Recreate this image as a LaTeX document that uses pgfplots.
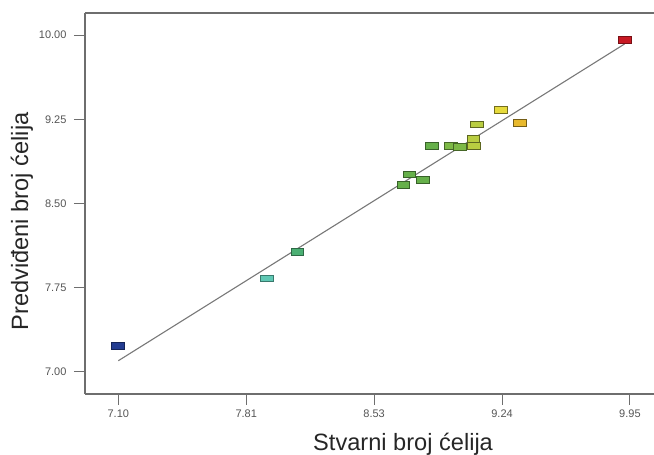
\documentclass[border=0pt]{standalone}
\usepackage{pgfplots}
\pgfplotsset{compat=1.18}
\usepackage{pgfplotstable}
\usepackage{fontspec}
\setmainfont{Liberation Sans}

\definecolor{frameGray}{RGB}{110,110,110}
\definecolor{tickText}{RGB}{85,85,85}
\definecolor{fitLine}{RGB}{120,120,120}
\definecolor{cBlue}{RGB}{35,60,145}
\definecolor{cTeal}{RGB}{95,200,180}
\definecolor{cTealGreen}{RGB}{75,175,115}
\definecolor{cGreenA}{RGB}{102,176,74}
\definecolor{cGreenB}{RGB}{125,185,70}
\definecolor{cYellowGreen}{RGB}{185,205,65}
\definecolor{cYellow}{RGB}{230,218,60}
\definecolor{cOrange}{RGB}{232,185,45}
\definecolor{cRed}{RGB}{200,25,35}

% flat rectangular marker, wider than tall
\pgfdeclareplotmark{flatrect}{%
  \pgfpathrectangle{\pgfpoint{-1.85\pgfplotmarksize}{-\pgfplotmarksize}}%
                   {\pgfpoint{3.7\pgfplotmarksize}{2\pgfplotmarksize}}%
  \pgfusepathqfillstroke}

% actual vs. predicted cell counts, with a colour class for each run
\pgfplotstableread{
x      y      c
7.097  7.231  bl
7.927  7.834  tl
8.097  8.066  tg
8.688  8.665  ga
8.721  8.760  ga
8.796  8.709  ga
8.846  9.012  ga
8.952  9.012  gb
9.004  9.006  gb
9.078  9.077  yg
9.082  9.012  yg
9.097  9.205  yg
9.230  9.332  yl
9.338  9.219  or
9.923  9.955  rd
}\runs

\begin{document}
\begin{tikzpicture}
\begin{axis}[
  scale only axis,
  width=569pt, height=381pt,
  xmin=6.9145, xmax=10.084,
  ymin=6.804, ymax=10.196,
  axis x line*=bottom,
  axis y line*=left,
  axis line style={draw=frameGray, line width=1.3pt},
  tick align=outside,
  major tick length=11pt,
  tick style={draw=frameGray, line width=1pt},
  xtick={7.1,7.8125,8.525,9.2375,9.95},
  xticklabels={7.10,7.81,8.53,9.24,9.95},
  ytick={7,7.75,8.5,9.25,10},
  yticklabels={7.00,7.75,8.50,9.25,10.00},
  ticklabel style={font=\fontsize{11}{12}\selectfont, text=tickText},
  /pgf/number format/assume math mode=true,
  xticklabel style={yshift=-1pt},
  yticklabel style={xshift=-4pt},
  xlabel={Stvarni broj ćelija},
  ylabel={Predviđeni broj ćelija},
  label style={font=\fontsize{23.6}{26}\selectfont, text=black!85},
  xlabel style={at={(axis description cs:0.559,-0.147)}, anchor=base},
  ylabel style={at={(axis description cs:-0.1107,0.453)}, anchor=center},
]
\coordinate (bl) at (rel axis cs:0,0);
\coordinate (tr) at (rel axis cs:1,1);
\draw[frameGray, line width=1.3pt] (rel axis cs:0,1) -- (rel axis cs:1,1);

\addplot[
  scatter, only marks, mark=flatrect, mark size=3.4pt,
  point meta=explicit symbolic,
  scatter/classes={
    bl={fill=cBlue, draw=cBlue!60!black, line width=0.7pt},
    tl={fill=cTeal, draw=cTeal!60!black, line width=0.7pt},
    tg={fill=cTealGreen, draw=cTealGreen!60!black, line width=0.7pt},
    ga={fill=cGreenA, draw=cGreenA!55!black, line width=0.7pt},
    gb={fill=cGreenB, draw=cGreenB!55!black, line width=0.7pt},
    yg={fill=cYellowGreen, draw=cYellowGreen!50!black, line width=0.7pt},
    yl={fill=cYellow, draw=cYellow!50!black, line width=0.7pt},
    or={fill=cOrange, draw=cOrange!50!black, line width=0.7pt},
    rd={fill=cRed, draw=cRed!60!black, line width=0.7pt}
  },
] table[x=x, y=y, meta=c] {\runs};

% 1:1 reference line
\addplot[fitLine, line width=1.1pt, no marks] coordinates {(7.10,7.10) (9.92,9.92)};
\end{axis}
\pgfresetboundingbox
\path[use as bounding box] ([xshift=-85pt,yshift=-61pt]bl) rectangle ([yshift=13pt]tr);
\end{tikzpicture}
\end{document}
